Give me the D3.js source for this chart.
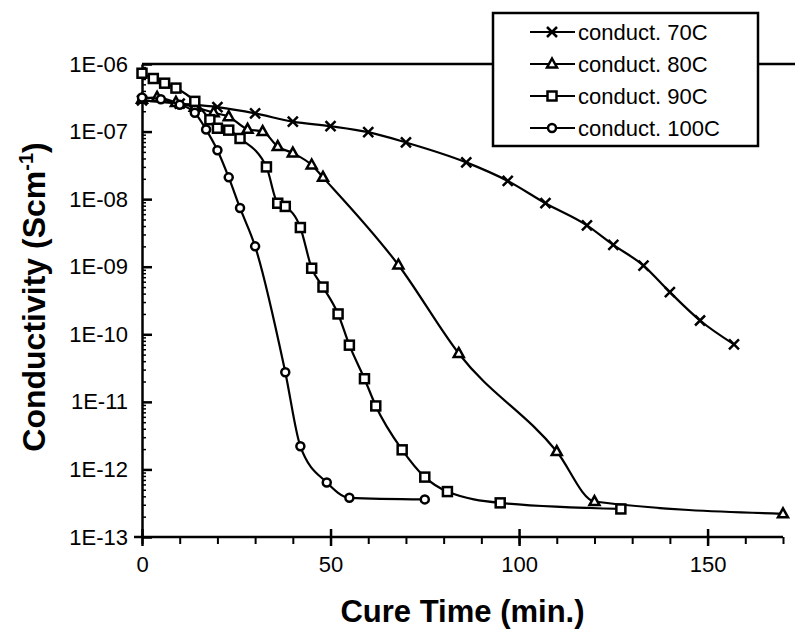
<!DOCTYPE html>
<html>
<head>
<meta charset="utf-8">
<script src="https://cdn.jsdelivr.net/npm/d3@7"></script>
<style>
  body { margin: 0; background: #fff; }
  svg { display: block; }
</style>
</head>
<body>
<div id="chart"></div>
<script>
// data (time in min., conductivity in S/cm)
var t70 = [0, 10, 20, 30, 40, 50, 60, 70, 86, 97, 107, 118, 125, 133, 140, 148, 157];
var v70 = [2.9e-7, 2.6e-7, 2.3e-7, 1.86e-7, 1.4e-7, 1.2e-7, 9.8e-8, 6.9e-8, 3.5e-8, 1.86e-8, 8.7e-9, 4.1e-9, 2.1e-9, 1.04e-9, 4.2e-10, 1.6e-10, 7.1e-11];

var t80 = [0, 4, 9, 14, 19, 23, 28, 32, 36, 40, 45, 48, 68, 84, 110, 120, 170];
var v80 = [3.0e-7, 3.2e-7, 2.7e-7, 2.3e-7, 1.9e-7, 1.66e-7, 1.08e-7, 1.0e-7, 6e-8, 4.8e-8, 3.2e-8, 2.1e-8, 1.06e-9, 5.2e-11, 1.84e-12, 3.35e-13, 2.2e-13];

var t90 = [0, 3, 6, 9, 14, 18, 20, 23, 26, 33, 36, 38, 42, 45, 48, 52, 55, 59, 62, 69, 75, 81, 95, 127];
var v90 = [7.3e-7, 6.1e-7, 5.2e-7, 4.4e-7, 2.8e-7, 1.5e-7, 1.12e-7, 1.05e-7, 7.9e-8, 3e-8, 8.7e-9, 7.8e-9, 3.8e-9, 9.5e-10, 5e-10, 2e-10, 6.9e-11, 2.2e-11, 8.7e-12, 1.95e-12, 7.7e-13, 4.7e-13, 3.2e-13, 2.6e-13];

var t100 = [0, 5, 10, 14, 17, 20, 23, 26, 30, 38, 42, 49, 55, 75];
var v100 = [3.2e-7, 3.0e-7, 2.5e-7, 1.9e-7, 1.07e-7, 5.3e-8, 2.1e-8, 7.4e-9, 2e-9, 2.75e-11, 2.2e-12, 6.4e-13, 3.8e-13, 3.6e-13];

var seriesNames = ["conduct. 70C", "conduct. 80C", "conduct. 90C", "conduct. 100C"];
var seriesMarks = ["cross", "triangle", "square", "circle"];
var yTicks = [1e-6, 1e-7, 1e-8, 1e-9, 1e-10, 1e-11, 1e-12, 1e-13];
var xTicks = [0, 50, 100, 150];

var W = 795, H = 633;
var font = "Arial, 'Liberation Sans', sans-serif";

var svg = d3.select("#chart").append("svg")
	.attr("width", W)
	.attr("height", H)
	.style("background", "#fff");

// scales
var x = d3.scaleLinear().domain([0, 170]).range([142, 783]);
var y = d3.scaleLog().domain([1e-13, 1e-6]).range([537, 64]);

// plot top border
svg.append("line")
	.attr("x1", x(0)).attr("x2", W)
	.attr("y1", y(1e-6)).attr("y2", y(1e-6))
	.attr("stroke", "#000").attr("stroke-width", 2.5);

// minor log ticks on y
var minorY = [];
for (var e = -13; e < -6; e++) {
	for (var m = 2; m <= 9; m++) minorY.push(m * Math.pow(10, e));
}
svg.append("g")
	.attr("transform", "translate(" + x(0) + ",0)")
	.call(d3.axisRight(y).tickValues(minorY).tickSize(4).tickFormat(""))
	.call(function(g) { g.select(".domain").remove(); })
	.selectAll("line").attr("stroke-width", 1.5);

// y axis with labels
var fmtY = function(d) {
	var p = -Math.round(Math.log10(d));
	return "1E-" + (p < 10 ? "0" + p : p);
};
svg.append("g")
	.attr("transform", "translate(" + x(0) + ",0)")
	.call(d3.axisLeft(y).tickValues(yTicks).tickSize(0).tickPadding(14).tickFormat(fmtY))
	.call(function(g) {
		g.select(".domain").attr("stroke-width", 2.5);
		g.selectAll("text").style("font-family", font).style("font-size", "22px").attr("fill", "#000");
	});
svg.append("g")
	.attr("transform", "translate(" + x(0) + ",0)")
	.call(d3.axisRight(y).tickValues(yTicks).tickSize(10).tickFormat(""))
	.call(function(g) { g.select(".domain").remove(); })
	.selectAll("line").attr("stroke-width", 2.5);

// x axis
svg.append("line")
	.attr("x1", 134).attr("x2", x(170))
	.attr("y1", y(1e-13)).attr("y2", y(1e-13))
	.attr("stroke", "#000").attr("stroke-width", 2.5);
svg.append("g")
	.attr("transform", "translate(0," + y(1e-13) + ")")
	.call(d3.axisBottom(x).tickValues(d3.range(0, 171, 10)).tickSize(7).tickFormat(""))
	.call(function(g) { g.select(".domain").remove(); })
	.selectAll("line").attr("stroke-width", 2);
svg.append("g")
	.attr("transform", "translate(0," + y(1e-13) + ")")
	.call(d3.axisBottom(x).tickValues(xTicks).tickSize(9).tickPadding(10))
	.call(function(g) {
		g.select(".domain").remove();
		g.selectAll("line").attr("stroke-width", 2.5);
		g.selectAll("text").style("font-family", font).style("font-size", "22px").attr("fill", "#000");
	});
svg.append("g")
	.attr("transform", "translate(0," + y(1e-13) + ")")
	.call(d3.axisTop(x).tickValues(xTicks).tickSize(8).tickFormat(""))
	.call(function(g) { g.select(".domain").remove(); })
	.selectAll("line").attr("stroke-width", 2.5);

// axis titles
svg.append("text")
	.attr("x", (x(0) + x(170)) / 2)
	.attr("y", 622)
	.attr("text-anchor", "middle")
	.style("font-family", font).style("font-size", "31px").style("font-weight", "bold")
	.text("Cure Time (min.)");

var yt = svg.append("text")
	.attr("transform", "translate(45,297) rotate(-90)")
	.attr("text-anchor", "middle")
	.style("font-family", font).style("font-size", "32px").style("font-weight", "bold");
yt.append("tspan").text("Conductivity (Scm");
yt.append("tspan").attr("dy", -12).style("font-size", "20px").text("-1");
yt.append("tspan").attr("dy", 12).text(")");

// markers
function drawMark(g, kind, cx, cy) {
	if (kind == "cross") {
		g.append("path")
			.attr("d", "M" + (cx - 5) + "," + (cy - 5) + "L" + (cx + 5) + "," + (cy + 5) +
				"M" + (cx - 5) + "," + (cy + 5) + "L" + (cx + 5) + "," + (cy - 5))
			.attr("stroke", "#000").attr("stroke-width", 2.5).attr("fill", "none");
	} else if (kind == "triangle") {
		g.append("path")
			.attr("d", "M" + cx + "," + (cy - 5.5) + "L" + (cx + 5) + "," + (cy + 3.5) + "L" + (cx - 5) + "," + (cy + 3.5) + "Z")
			.attr("stroke", "#000").attr("stroke-width", 2.5).attr("fill", "#fff");
	} else if (kind == "square") {
		g.append("rect")
			.attr("x", cx - 4.5).attr("y", cy - 4.5).attr("width", 9).attr("height", 9)
			.attr("stroke", "#000").attr("stroke-width", 2.5).attr("fill", "#fff");
	} else {
		g.append("circle")
			.attr("cx", cx).attr("cy", cy).attr("r", 4)
			.attr("stroke", "#000").attr("stroke-width", 2.5).attr("fill", "#fff");
	}
}

var allT = [t70, t80, t90, t100];
var allV = [v70, v80, v90, v100];

var line = d3.line()
	.x(function(d) { return x(d[0]); })
	.y(function(d) { return y(d[1]); })
	.curve(d3.curveMonotoneX);

for (var s = 0; s < 4; s++) {
	var pts = allT[s].map(function(t, i) { return [t, allV[s][i]]; });
	var g = svg.append("g");
	g.append("path")
		.attr("d", line(pts))
		.attr("fill", "none")
		.attr("stroke", "#000")
		.attr("stroke-width", 2.2);
	pts.forEach(function(p) { drawMark(g, seriesMarks[s], x(p[0]), y(p[1])); });
}

// legend
var lg = svg.append("g");
lg.append("rect")
	.attr("x", 493).attr("y", 13).attr("width", 265).attr("height", 133)
	.attr("fill", "#fff").attr("stroke", "#000").attr("stroke-width", 2.5);
seriesNames.forEach(function(name, i) {
	var ly = 32 + i * 32;
	lg.append("line")
		.attr("x1", 530).attr("x2", 575).attr("y1", ly).attr("y2", ly)
		.attr("stroke", "#000").attr("stroke-width", 2.2);
	drawMark(lg, seriesMarks[i], 552, ly);
	lg.append("text")
		.attr("x", 578).attr("y", ly + 8)
		.style("font-family", font).style("font-size", "22px")
		.text(name);
});
</script>
